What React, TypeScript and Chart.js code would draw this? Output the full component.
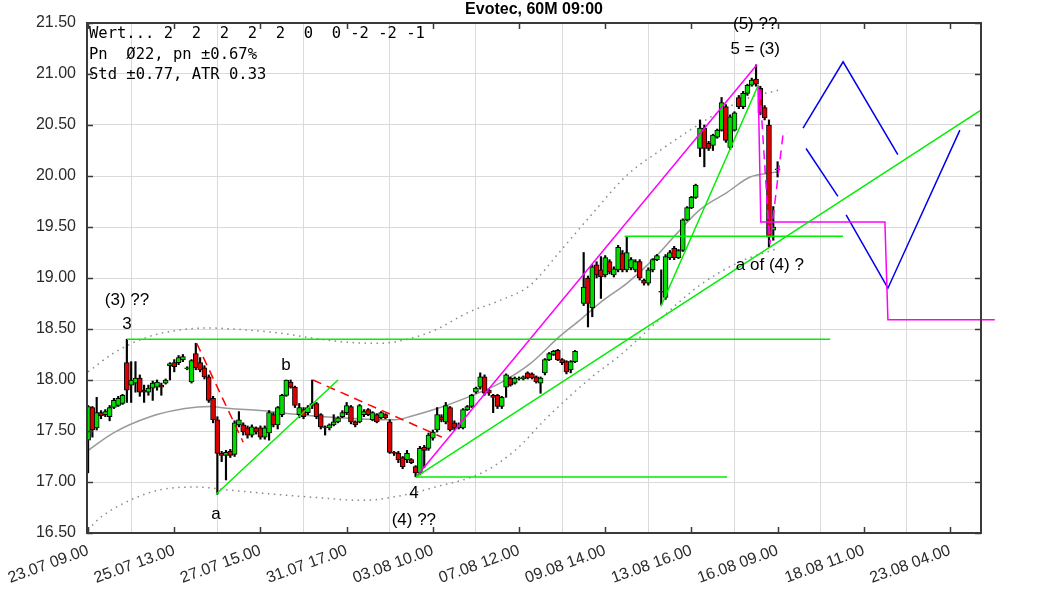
import React, { useEffect, useRef } from 'react';
import { Chart, registerables } from 'chart.js';

Chart.register(...registerables);

const TITLE = 'Evotec, 60M 09:00';
const INFO_LINES = ['Wert... 2  2  2  2  2  0  0 -2 -2 -1', 'Pn  Ø22, pn ±0.67%', 'Std ±0.77, ATR 0.33'];

const X_TICK_INDEX = [0, 20, 40, 60, 80, 100, 120, 140, 160, 180, 200];
const X_TICK_LABELS = ['23.07 09.00', '25.07 13.00', '27.07 15.00', '31.07 17.00', '03.08 10.00', '07.08 12.00', '09.08 14.00', '13.08 16.00', '16.08 09.00', '18.08 11.00', '23.08 04.00'];
const Y_TICKS = [16.5, 17, 17.5, 18, 18.5, 19, 19.5, 20, 20.5, 21, 21.5];
const X_MIN = -0.25;
const X_MAX = 207.2;

const OPEN = [17.41,17.73,17.53,17.68,17.66,17.64,17.73,17.75,17.77,18.17,17.95,17.97,18.02,17.90,17.88,17.92,17.93,17.95,17.97,18.14,18.17,18.17,18.20,18.11,17.98,18.26,18.17,18.12,18.03,17.82,17.61,17.28,17.26,17.30,17.27,17.56,17.56,17.53,17.46,17.53,17.53,17.44,17.48,17.66,17.56,17.66,17.85,17.98,17.93,17.66,17.71,17.68,17.75,17.77,17.66,17.54,17.53,17.56,17.59,17.64,17.68,17.74,17.59,17.59,17.66,17.71,17.61,17.66,17.63,17.66,17.59,17.29,17.28,17.24,17.22,17.22,17.15,17.09,17.34,17.33,17.43,17.51,17.64,17.59,17.73,17.58,17.53,17.53,17.71,17.74,17.88,17.93,18.03,17.90,17.85,17.85,17.74,17.93,18.02,17.97,18.01,18.01,18.07,18.06,18.03,17.97,18.07,18.20,18.25,18.29,18.20,18.18,18.10,18.18,null,18.75,19.00,18.71,19.13,19.08,19.03,19.16,19.03,19.08,19.24,19.08,19.10,19.08,19.16,18.98,18.95,19.08,19.18,18.87,18.81,19.20,19.29,19.20,19.27,19.57,19.69,19.79,20.27,20.47,20.32,20.30,20.38,20.45,20.68,20.28,20.45,20.77,20.68,20.81,20.89,20.95,20.86,20.67,20.50,19.47,20.06];
const HIGH = [17.75,17.74,17.83,17.70,17.71,17.75,17.82,17.84,17.86,18.40,18.18,18.18,18.05,17.95,17.95,17.99,18.00,17.97,18.01,18.17,18.20,18.24,18.25,18.13,18.20,18.36,18.22,18.14,18.05,17.84,17.64,17.30,17.31,17.32,17.60,17.69,17.58,17.55,17.56,17.54,17.55,17.55,17.70,17.68,17.74,17.86,18.00,18.00,17.94,17.77,17.73,17.75,18.00,17.78,17.67,17.55,17.57,17.66,17.64,17.70,17.78,17.75,17.60,17.76,17.71,17.72,17.69,17.67,17.69,17.67,17.61,17.30,17.30,17.25,17.31,17.23,17.16,17.35,17.36,17.48,17.51,17.73,17.66,17.78,17.74,17.60,17.58,17.72,17.75,17.86,17.93,18.07,18.05,17.91,17.86,17.86,17.84,18.06,18.03,18.03,18.03,18.04,18.08,18.07,18.04,18.03,18.21,18.27,18.29,18.30,18.21,18.19,18.19,18.29,null,19.25,19.02,19.13,19.16,19.21,19.22,19.18,19.11,19.32,19.27,19.40,19.20,19.18,19.18,18.99,19.10,19.19,19.23,19.08,19.23,19.27,19.31,19.28,19.58,19.70,19.80,19.92,20.55,20.50,20.34,20.41,20.46,20.77,20.70,20.60,20.63,20.79,20.83,20.90,20.96,21.09,20.88,20.69,20.55,19.70,20.14];
const LOW = [17.09,17.44,17.51,17.62,17.64,17.60,17.72,17.74,17.76,17.78,17.78,17.88,17.84,17.78,17.85,17.80,17.90,17.85,17.96,18.00,18.08,18.15,18.18,18.10,17.97,18.10,18.08,18.01,17.78,17.58,16.88,17.20,17.02,17.24,17.25,17.54,17.46,17.43,17.44,17.47,17.42,17.42,17.41,17.54,17.52,17.64,17.84,17.92,17.73,17.63,17.62,17.66,17.72,17.62,17.52,17.46,17.51,17.55,17.58,17.63,17.66,17.57,17.54,17.58,17.64,17.65,17.60,17.58,17.62,17.62,17.28,17.26,17.19,17.13,17.19,17.18,17.05,17.07,17.14,17.31,17.41,17.49,17.59,17.57,17.50,17.51,17.52,17.52,17.70,17.73,17.87,17.91,17.85,17.85,17.68,17.72,17.72,17.83,17.94,17.96,18.00,18.00,18.01,18.01,17.97,17.87,18.05,18.19,18.24,18.19,18.15,18.06,18.07,18.17,null,18.73,18.52,18.62,19.00,18.80,19.01,19.04,19.01,19.06,19.06,19.06,19.08,19.06,18.98,18.93,18.93,19.06,19.17,18.74,18.79,19.18,19.18,19.19,19.26,19.56,19.68,19.78,20.19,20.09,20.25,20.25,20.37,20.44,20.33,20.26,20.44,20.66,20.66,20.79,20.88,20.88,20.60,20.55,19.30,19.37,19.99];
const CLOSE = [17.74,17.51,17.68,17.65,17.69,17.73,17.80,17.82,17.85,17.90,18.00,18.02,17.88,17.88,17.92,17.97,17.98,17.93,18.00,18.16,18.13,18.22,18.23,18.12,18.19,18.12,18.10,18.03,17.80,17.61,17.28,17.26,17.29,17.26,17.58,17.61,17.49,17.46,17.54,17.49,17.44,17.53,17.68,17.56,17.73,17.85,18.00,17.93,17.75,17.73,17.64,17.73,17.77,17.64,17.54,17.53,17.56,17.59,17.63,17.68,17.75,17.59,17.56,17.75,17.69,17.66,17.68,17.59,17.68,17.63,17.29,17.28,17.22,17.15,17.28,17.19,17.09,17.33,17.31,17.46,17.49,17.66,17.61,17.75,17.51,17.53,17.56,17.71,17.74,17.85,17.92,18.03,17.87,17.87,17.83,17.74,17.83,18.05,17.95,18.02,18.02,18.03,18.02,18.02,17.98,18.02,18.20,18.26,18.28,18.20,18.17,18.08,18.18,18.28,null,18.91,18.75,19.11,19.03,19.01,19.20,19.06,19.09,19.30,19.08,19.25,19.18,19.16,19.00,18.95,19.08,19.18,19.22,18.86,19.21,19.25,19.20,19.27,19.57,19.69,19.79,19.91,20.47,20.27,20.27,20.40,20.45,20.72,20.35,20.58,20.62,20.68,20.81,20.89,20.94,20.90,20.62,20.57,19.40,19.50,20.07];

const MA_X = [0,5.8,14.4,22.5,28.3,32.9,39.9,49.2,58.5,67.7,71.2,75.4,81.0,88.6,95.6,102.6,109.5,114.2,119.5,125.1,131.1,136.7,142.0,148.3,153.6,158.2,160.1];
const MA_Y = [17.31,17.48,17.64,17.72,17.74,17.72,17.70,17.66,17.63,17.61,17.61,17.65,17.72,17.84,17.97,18.16,18.43,18.59,18.78,18.95,19.18,19.44,19.67,19.84,19.99,20.03,20.04];
const UPPER_X = [0,5.8,13.7,21.3,27.6,36.9,44.5,52.2,60.1,67.7,73.1,80.0,88.6,95.6,102.6,109.5,117.2,125.1,132.7,139.7,146.6,153.6,160.1];
const UPPER_Y = [18.08,18.26,18.42,18.49,18.51,18.49,18.46,18.41,18.37,18.36,18.39,18.48,18.67,18.78,18.93,19.26,19.64,20.01,20.25,20.45,20.63,20.77,20.84];
const LOWER_X = [0,2.8,9.7,17.4,25.3,32.9,40.6,52.2,63.8,73.1,80.5,91.4,99.1,106.7,116.9,123.4,132.0,142.0,151.3,160.1];
const LOWER_Y = [16.53,16.65,16.82,16.93,16.95,16.92,16.89,16.85,16.82,16.87,16.95,17.09,17.31,17.64,18.03,18.24,18.57,18.93,19.16,19.29];

// trend lines: [index, price] pairs
const GREEN_TOP_3 = [[9.05, 18.40], [172.2, 18.40]];
const GREEN_A_B = [[29.7, 16.88], [58.0, 18.0]];
const GREEN_BOTTOM_4 = [[76.1, 17.05], [148.3, 17.05]];
const GREEN_TREND_4 = [[76.1, 17.05], [207.0, 20.64]];
const GREEN_LEVEL_1941 = [[124.5, 19.41], [175.2, 19.41]];
const GREEN_STEEP = [[132.9, 18.72], [155.5, 20.89]];
const MAGENTA_4_5 = [[76.1, 17.05], [155.2, 21.09]];
const MAGENTA_PATH = [[155.5, 20.89], [156.1, 19.55], [184.9, 19.55], [185.6, 18.59], [210.4, 18.59]];
const MAGENTA_DASH = [[155.9, 20.84], [158.2, 19.33], [161.3, 20.42], [162.2, 20.42]];
const RED_DASH_1 = [[25.2, 18.36], [36.0, 17.39]];
const RED_DASH_2 = [[52.2, 18.0], [82.1, 17.44]];
const BLUE_1 = [[165.9, 20.47], [175.2, 21.12], [187.9, 20.21]];
const BLUE_2 = [[166.6, 20.27], [174.0, 19.80]];
const BLUE_3 = [[175.9, 19.62], [185.6, 18.90], [202.3, 20.45]];

const NOTE_TEXT = ['(3) ??', '3', 'a', 'b', '4', '(4) ??', '(5) ??', '5 = (3)', 'a of (4) ?'];
const NOTE_X = [9.05, 9.05, 29.7, 45.9, 75.6, 75.6, 154.8, 154.8, 158.2];
const NOTE_Y = [18.78, 18.55, 16.68, 18.14, 16.89, 16.62, 21.49, 21.24, 19.12];

const SANS = "'Liberation Sans', Arial, sans-serif";

const toPts = (arr: number[][]) => arr.map(([x, y]) => ({ x, y }));

const lineDs = (pts: number[][], color: string, dash: number[] = [], width = 1.5, clip: any = undefined) => ({
  type: 'line' as const,
  data: toPts(pts),
  borderColor: color,
  borderWidth: width,
  borderDash: dash,
  pointRadius: 0,
  fill: false,
  tension: 0,
  order: 0,
  ...(clip !== undefined ? { clip } : {}),
});

const overlayPlugin = {
  id: 'overlay',
  afterDraw(chart: any) {
    const { ctx, chartArea, scales } = chart;
    const { left, right, top, bottom } = chartArea;
    const xs = scales.x;
    const ys = scales.y;
    ctx.save();
    ctx.strokeStyle = '#3a3a3a';
    ctx.lineWidth = 2;
    ctx.strokeRect(left, top, right - left, bottom - top);
    ctx.lineWidth = 1.5;
    X_TICK_INDEX.forEach((v) => {
      const px = Math.round(xs.getPixelForValue(v)) + 0.5;
      ctx.beginPath();
      ctx.moveTo(px, bottom);
      ctx.lineTo(px, bottom - 6);
      ctx.moveTo(px, top);
      ctx.lineTo(px, top + 6);
      ctx.stroke();
    });
    Y_TICKS.forEach((v) => {
      const py = Math.round(ys.getPixelForValue(v)) + 0.5;
      ctx.beginPath();
      ctx.moveTo(left, py);
      ctx.lineTo(left + 6, py);
      ctx.moveTo(right, py);
      ctx.lineTo(right - 6, py);
      ctx.stroke();
    });
    ctx.fillStyle = '#000';
    ctx.font = `bold 16px ${SANS}`;
    ctx.textAlign = 'center';
    ctx.textBaseline = 'middle';
    ctx.fillText(TITLE, (left + right) / 2, 10);
    ctx.font = "15.5px 'DejaVu Sans Mono', monospace";
    ctx.textAlign = 'left';
    INFO_LINES.forEach((t, k) => ctx.fillText(t, left + 2, top + 11 + k * 20.5));
    ctx.font = `17px ${SANS}`;
    ctx.textAlign = 'center';
    NOTE_TEXT.forEach((t, k) => {
      ctx.fillText(t, xs.getPixelForValue(NOTE_X[k]), ys.getPixelForValue(NOTE_Y[k]));
    });
    ctx.restore();
  },
};

export default function App() {
  const ref = useRef<HTMLCanvasElement | null>(null);
  useEffect(() => {
    if (!ref.current) return;
    const idx = OPEN.map((_, i) => i).filter((i) => OPEN[i] !== null);
    const wickData = idx.map((i) => ({ x: i, y: [LOW[i] as number, HIGH[i] as number] }));
    const bodyData = idx.map((i) => ({ x: i, y: [OPEN[i] as number, CLOSE[i] as number] }));
    const bodyColors = idx.map((i) => ((CLOSE[i] as number) >= (OPEN[i] as number) ? '#00dd00' : '#dd0000'));

    const chart = new Chart(ref.current, {
      type: 'bar',
      data: {
        datasets: [
          {
            type: 'bar',
            data: wickData as any,
            backgroundColor: '#000',
            borderWidth: 0,
            barThickness: 1.5,
            grouped: false,
            order: 3,
          } as any,
          {
            type: 'bar',
            data: bodyData as any,
            backgroundColor: bodyColors,
            borderColor: '#000',
            borderWidth: 1,
            borderSkipped: false,
            barThickness: 5,
            grouped: false,
            order: 2,
          } as any,
          {
            type: 'line',
            data: MA_X.map((x, k) => ({ x, y: MA_Y[k] })),
            borderColor: '#9a9a9a',
            borderWidth: 1.5,
            pointRadius: 0,
            cubicInterpolationMode: 'monotone',
            order: 4,
          } as any,
          {
            type: 'line',
            data: UPPER_X.map((x, k) => ({ x, y: UPPER_Y[k] })),
            borderColor: '#8a8a8a',
            borderWidth: 1.5,
            borderDash: [1.5, 4.5],
            pointRadius: 0,
            cubicInterpolationMode: 'monotone',
            order: 4,
          } as any,
          {
            type: 'line',
            data: LOWER_X.map((x, k) => ({ x, y: LOWER_Y[k] })),
            borderColor: '#8a8a8a',
            borderWidth: 1.5,
            borderDash: [1.5, 4.5],
            pointRadius: 0,
            cubicInterpolationMode: 'monotone',
            order: 4,
          } as any,
          lineDs(GREEN_TOP_3, '#00ee00'),
          lineDs(GREEN_A_B, '#00ee00'),
          lineDs(GREEN_BOTTOM_4, '#00ee00'),
          lineDs(GREEN_TREND_4, '#00ee00'),
          lineDs(GREEN_LEVEL_1941, '#00ee00'),
          lineDs(GREEN_STEEP, '#00ee00'),
          lineDs(MAGENTA_4_5, '#ff00ff'),
          lineDs(MAGENTA_PATH, '#ff00ff', [], 1.5, false),
          lineDs(MAGENTA_DASH, '#ff00ff', [9, 6]),
          lineDs(RED_DASH_1, '#ff0000', [9, 6]),
          lineDs(RED_DASH_2, '#ff0000', [9, 6]),
          lineDs(BLUE_1, '#0000ee'),
          lineDs(BLUE_2, '#0000ee'),
          lineDs(BLUE_3, '#0000ee'),
        ] as any,
      },
      options: {
        animation: false,
        responsive: false,
        devicePixelRatio: 1,
        layout: { padding: { top: 23, right: 82, left: 0, bottom: 0 } },
        plugins: { legend: { display: false }, tooltip: { enabled: false }, title: { display: false } },
        scales: {
          x: {
            type: 'linear',
            min: X_MIN,
            max: X_MAX,
            offset: false,
            afterBuildTicks: (scale: any) => {
              scale.ticks = X_TICK_INDEX.map((v) => ({ value: v }));
            },
            afterFit: (scale: any) => {
              scale.height = 58;
              scale.paddingLeft = 0;
              scale.paddingRight = 0;
            },
            grid: { color: '#dadada', lineWidth: 1, drawTicks: false },
            border: { display: false },
            ticks: {
              autoSkip: false,
              minRotation: 20,
              maxRotation: 20,
              padding: 8,
              color: '#2a2a2a',
              font: { family: SANS, size: 16 },
              callback: (v: any) => {
                const k = X_TICK_INDEX.indexOf(Number(v));
                return k >= 0 ? X_TICK_LABELS[k] : '';
              },
            },
          },
          y: {
            type: 'linear',
            min: Y_TICKS[0],
            max: Y_TICKS[Y_TICKS.length - 1],
            afterBuildTicks: (scale: any) => {
              scale.ticks = Y_TICKS.map((v) => ({ value: v }));
            },
            afterFit: (scale: any) => {
              scale.width = 87;
              scale.paddingTop = 0;
              scale.paddingBottom = 0;
            },
            grid: { color: '#dadada', lineWidth: 1, drawTicks: false },
            border: { display: false },
            ticks: {
              padding: 11,
              color: '#2a2a2a',
              font: { family: SANS, size: 16 },
              callback: (v: any) => Number(v).toFixed(2),
            },
          },
        },
      } as any,
      plugins: [overlayPlugin],
    });
    return () => chart.destroy();
  }, []);

  return (
    <div style={{ position: 'absolute', left: 0, top: 0, width: 1063, height: 591, background: '#fff' }}>
      <canvas ref={ref} width={1063} height={591} />
    </div>
  );
}
